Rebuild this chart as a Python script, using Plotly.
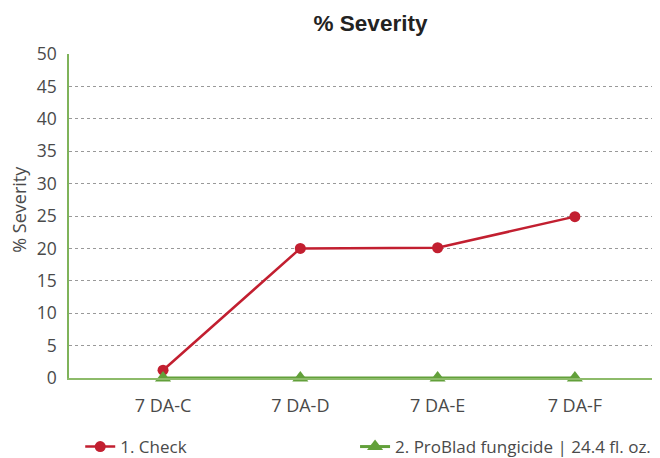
import plotly.graph_objects as go

categories = ["7 DA-C", "7 DA-D", "7 DA-E", "7 DA-F"]
check_vals = [1.2, 20.0, 20.1, 24.9]
problad_vals = [0, 0, 0, 0]
series_names = ["1. Check", "2. ProBlad fungicide | 24.4 fl. oz."]
y_ticks = [0, 5, 10, 15, 20, 25, 30, 35, 40, 45, 50]

red = "#c21f30"
green = "#62a03a"
font_fam = "Open Sans, Noto Sans, sans-serif"
txt = "#4a4a4a"

fig = go.Figure()
fig.add_trace(go.Scatter(
    x=categories, y=check_vals, name=series_names[0], mode="lines+markers",
    line=dict(color=red, width=2.5), marker=dict(symbol="circle", size=11, color=red),
    cliponaxis=False, legend="legend",
))
fig.add_trace(go.Scatter(
    x=categories, y=problad_vals, name=series_names[1], mode="lines+markers",
    line=dict(color=green, width=3), marker=dict(symbol="triangle-up", size=14, color=green),
    cliponaxis=False, legend="legend2",
))

leg_common = dict(orientation="h", xanchor="left", y=-0.213, yanchor="middle",
                  font=dict(size=17, color=txt), itemwidth=30, bgcolor="rgba(0,0,0,0)")

fig.update_layout(
    width=652, height=450,
    margin=dict(l=61, r=0, t=46, b=80, autoexpand=False),
    paper_bgcolor="white", plot_bgcolor="white",
    title=dict(text="<b>% Severity</b>", x=0.556, xanchor="center", y=0.967, yanchor="middle",
               font=dict(family="Liberation Sans, Arial, sans-serif", size=22.5, color="#222")),
    font=dict(family=font_fam, color=txt, size=16),
    showlegend=True,
    legend=dict(x=0.019, **leg_common),
    legend2=dict(x=0.484, **leg_common),
    xaxis=dict(type="category", range=[-0.685, 3.62], showgrid=False,
               showline=True, linecolor="#8dbb6a", linewidth=1.5, ticks="",
               tickfont=dict(size=18, color=txt), zeroline=False, ticklabelstandoff=11),
    yaxis=dict(range=[0, 50], tickvals=y_ticks, showgrid=True, gridcolor="#999",
               griddash="dot", gridwidth=1, showline=True, linecolor="#7fb35a", linewidth=1.5,
               zeroline=False, ticks="", tickfont=dict(size=17.5, color=txt), ticklabelstandoff=7),
    annotations=[dict(text="% Severity", xref="paper", yref="paper", x=-0.086, y=0.52,
                      xanchor="center", yanchor="middle", textangle=-90, showarrow=False,
                      font=dict(size=18, color=txt))],
)

fig.write_html("out.html")
